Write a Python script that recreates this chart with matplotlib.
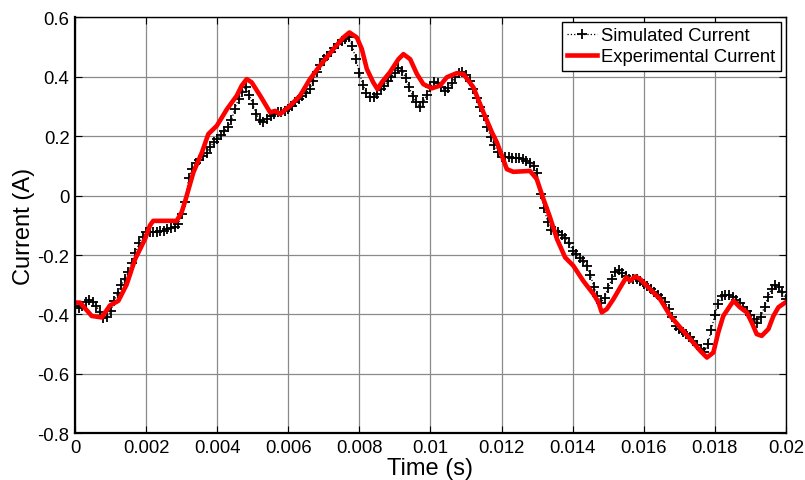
import matplotlib

matplotlib.use("Agg")
import matplotlib.pyplot as plt
import numpy as np
from matplotlib.ticker import FormatStrFormatter, MultipleLocator

plt.rcParams["font.family"] = ["Liberation Sans", "DejaVu Sans"]
plt.rcParams["axes.unicode_minus"] = False

# simulated current, sampled every 0.1 ms from 0 to 0.02 s
sim_current = [
    -0.371, -0.379, -0.373, -0.358, -0.350, -0.357, -0.372, -0.392, -0.412, -0.410,
    -0.389, -0.356, -0.328, -0.302, -0.282, -0.257, -0.226, -0.193, -0.161, -0.138,
    -0.124, -0.124, -0.124, -0.122, -0.120, -0.118, -0.113, -0.110, -0.105, -0.097,
    -0.063, -0.020, 0.060, 0.091, 0.109, 0.121, 0.132, 0.144, 0.162, 0.180,
    0.191, 0.203, 0.216, 0.231, 0.254, 0.293, 0.326, 0.349, 0.366, 0.340,
    0.307, 0.275, 0.254, 0.249, 0.259, 0.267, 0.275, 0.280, 0.282, 0.284,
    0.290, 0.302, 0.314, 0.326, 0.334, 0.345, 0.357, 0.385, 0.415, 0.440,
    0.460, 0.470, 0.483, 0.497, 0.510, 0.520, 0.527, 0.532, 0.505, 0.460,
    0.414, 0.373, 0.345, 0.333, 0.333, 0.343, 0.358, 0.370, 0.385, 0.400,
    0.414, 0.431, 0.420, 0.397, 0.364, 0.336, 0.314, 0.299, 0.315, 0.339,
    0.366, 0.381, 0.378, 0.366, 0.351, 0.362, 0.378, 0.399, 0.414, 0.415,
    0.405, 0.385, 0.357, 0.327, 0.297, 0.267, 0.230, 0.196, 0.170, 0.147,
    0.130, 0.129, 0.129, 0.128, 0.127, 0.125, 0.123, 0.117, 0.110, 0.098,
    0.077, 0.005, -0.042, -0.090, -0.115, -0.119, -0.124, -0.133, -0.142, -0.158,
    -0.185, -0.198, -0.209, -0.219, -0.238, -0.267, -0.308, -0.338, -0.360, -0.343,
    -0.311, -0.282, -0.258, -0.251, -0.261, -0.272, -0.281, -0.281, -0.281, -0.288,
    -0.296, -0.305, -0.315, -0.325, -0.334, -0.343, -0.357, -0.381, -0.409, -0.439,
    -0.448, -0.458, -0.466, -0.476, -0.489, -0.504, -0.517, -0.526, -0.501, -0.453,
    -0.402, -0.364, -0.338, -0.334, -0.335, -0.341, -0.351, -0.362, -0.375, -0.387,
    -0.402, -0.416, -0.428, -0.407, -0.374, -0.341, -0.313, -0.300, -0.308, -0.326,
    -0.349,
]
sim_time = np.linspace(0, 0.02, len(sim_current))

# measured current
exp_time = [
    0.0, 0.00014, 0.00047, 0.00075, 0.00098, 0.00122, 0.00145, 0.00169, 0.00197, 0.00211,
    0.0022, 0.00239, 0.00286, 0.0030, 0.0031, 0.00333, 0.00357, 0.00375, 0.00399, 0.00427,
    0.00455, 0.00469, 0.00483, 0.00497, 0.00521, 0.00549, 0.00563, 0.00577, 0.00605, 0.00633,
    0.00661, 0.00689, 0.00727, 0.00755, 0.00772, 0.00793, 0.00807, 0.00821, 0.00839, 0.00851,
    0.00863, 0.00886, 0.0091, 0.00924, 0.00943, 0.00962, 0.0098, 0.01004, 0.01027, 0.01046,
    0.01074, 0.01093, 0.01121, 0.01149, 0.01173, 0.01187, 0.01201, 0.01215, 0.01233, 0.0128,
    0.01299, 0.01318, 0.01335, 0.01356, 0.01379, 0.01402, 0.0143, 0.01459, 0.01473, 0.01482,
    0.01496, 0.01515, 0.01534, 0.01551, 0.01562, 0.01576, 0.0159, 0.01618, 0.01646, 0.01675,
    0.01703, 0.01731, 0.01759, 0.01778, 0.01796, 0.0181, 0.01824, 0.01843, 0.01853, 0.01871,
    0.0189, 0.01904, 0.01918, 0.01932, 0.01951, 0.01965, 0.01979, 0.01998,
]
exp_current = [
    -0.360, -0.360, -0.405, -0.410, -0.370, -0.354, -0.300, -0.214, -0.146, -0.100,
    -0.085, -0.085, -0.085, -0.056, -0.018, 0.078, 0.145, 0.207, 0.235, 0.290,
    0.336, 0.370, 0.392, 0.381, 0.336, 0.280, 0.285, 0.274, 0.302, 0.336,
    0.392, 0.437, 0.493, 0.532, 0.549, 0.532, 0.493, 0.426, 0.381, 0.358,
    0.381, 0.415, 0.459, 0.476, 0.459, 0.409, 0.375, 0.361, 0.370, 0.398,
    0.412, 0.409, 0.364, 0.280, 0.213, 0.179, 0.134, 0.089, 0.080, 0.083,
    0.056, -0.012, -0.068, -0.146, -0.208, -0.236, -0.287, -0.332, -0.360, -0.393,
    -0.382, -0.348, -0.309, -0.275, -0.287, -0.272, -0.281, -0.315, -0.348, -0.405,
    -0.444, -0.483, -0.522, -0.545, -0.528, -0.460, -0.405, -0.371, -0.354, -0.376,
    -0.393, -0.427, -0.466, -0.472, -0.449, -0.405, -0.376, -0.360,
]

fig = plt.figure(figsize=(8.05, 4.81), dpi=100)
ax = fig.add_axes([0.0932, 0.097, 0.883, 0.865])

ax.plot(sim_time, sim_current, ":", color="black", linewidth=0.9,
        marker="+", markersize=7, markeredgewidth=1.3, label="Simulated Current")
ax.plot(exp_time, exp_current, "-", color="#ff0000", linewidth=3.3,
        label="Experimental Current")

ax.set_xlim(0, 0.02)
ax.set_ylim(-0.8, 0.6)
ax.xaxis.set_major_locator(MultipleLocator(0.002))
ax.yaxis.set_major_locator(MultipleLocator(0.2))
ax.xaxis.set_major_formatter(FormatStrFormatter("%g"))
ax.yaxis.set_major_formatter(FormatStrFormatter("%g"))
ax.grid(True, color="#8a8a8a", linewidth=0.9)
ax.set_axisbelow(True)
ax.tick_params(direction="in", top=True, right=True, length=5, labelsize=13.3, pad=4)
for side in ["left", "bottom"]:
    ax.spines[side].set_linewidth(1.6)
for side in ["top", "right"]:
    ax.spines[side].set_linewidth(1.0)

ax.set_xlabel("Time (s)", fontsize=17, labelpad=1)
ax.set_ylabel("Current (A)", fontsize=17, labelpad=2)

leg = ax.legend(loc="upper right", fontsize=13.3, frameon=True, fancybox=False,
                framealpha=1, edgecolor="black", handlelength=1.6,
                borderpad=0.3, labelspacing=0.2, handletextpad=0.25,
                borderaxespad=0.25, numpoints=1)
leg.get_frame().set_linewidth(1.0)

fig.savefig("out.png", dpi=100)
